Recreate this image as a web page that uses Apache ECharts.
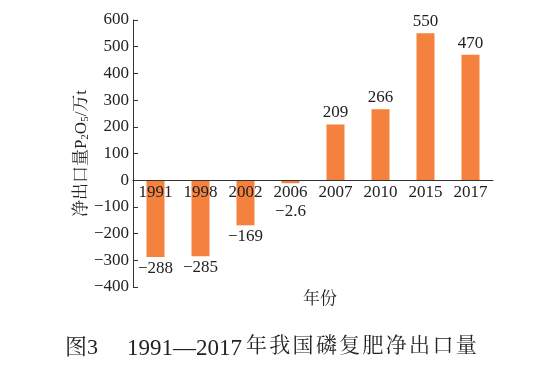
<!DOCTYPE html>
<html><head><meta charset="utf-8">
<script src="https://cdn.jsdelivr.net/npm/echarts@6/dist/echarts.min.js"></script>
<style>html,body{margin:0;padding:0;background:#fff}#c{width:538px;height:380px}</style>
</head><body><div id="c"></div>
<script>
const categories = ['1991','1998','2002','2006','2007','2010','2015','2017'];
const values = [-288, -285, -169, -2.6, 209, 266, 550, 470];
const yTicks = [-400,-300,-200,-100,0,100,200,300,400,500,600];
const captionHead = '图3';
const captionYears = '1991—2017';
const captionTail = '年我国磷复肥净出口量';

const serif = '"Liberation Serif","Noto Serif CJK SC","Noto Sans CJK SC",serif';
const fmt = v => (v < 0 ? '\u2212' + Math.abs(v) : String(v));

const data = values.map(v => {
  const item = { value: v };
  if (v < 0 && Math.abs(v) < 60) item.label = { distance: 20 };
  return item;
});

const grid = { left: 133, right: 45, top: 20, bottom: 93 };
const chart = echarts.init(document.getElementById('c'), null, { renderer: 'canvas' });

const tailChars = captionTail.split('').map((ch, i) => ({
  type: 'text', left: 246 + i * 23.3, top: 336,
  style: { text: ch, fontFamily: serif, fontSize: 21, fill: '#222' }
}));

const option = {
  animation: false,
  grid: grid,
  xAxis: {
    type: 'category',
    z: 5,
    data: categories,
    axisLine: { onZero: true, lineStyle: { color: '#333', width: 1 } },
    axisTick: { inside: true, length: 5, lineStyle: { color: '#333' } },
    axisLabel: { margin: 4, color: '#222', fontFamily: serif, fontSize: 17 }
  },
  yAxis: {
    type: 'value',
    min: yTicks[0], max: yTicks[yTicks.length - 1], interval: 100,
    name: '净出口量P{sub|2}O{sub|5}/万t',
    nameLocation: 'middle',
    nameGap: 42,
    nameMoveOverlap: false,
    nameTextStyle: {
      color: '#222', fontFamily: serif, fontSize: 17,
      rich: { sub: { fontSize: 11, fontFamily: serif, color: '#222', verticalAlign: 'bottom', padding: [8, 0, 0, 0] } }
    },
    axisLine: { show: true, lineStyle: { color: '#333', width: 1 } },
    axisTick: { show: true, inside: true, length: 5, lineStyle: { color: '#333' } },
    splitLine: { show: false },
    axisLabel: { margin: 4, color: '#222', fontFamily: serif, fontSize: 17, formatter: fmt }
  },
  series: [{
    type: 'bar',
    data: data,
    barWidth: 18,
    barMinHeight: 3,
    itemStyle: { color: '#F5813F' },
    label: {
      show: true,
      position: 'outside',
      distance: 3,
      color: '#222', fontFamily: serif, fontSize: 17,
      formatter: p => fmt(p.value)
    }
  }],
  graphic: [
    { type: 'text', left: 303, top: 291, style: { text: '年份', fontFamily: serif, fontSize: 17, fill: '#222' } },
    { type: 'text', left: 65, top: 337, style: { text: captionHead, fontFamily: serif, fontSize: 22, fill: '#222' } },
    { type: 'text', left: 127, top: 337, style: { text: captionYears, fontFamily: serif, fontSize: 23, fill: '#222' } }
  ].concat(tailChars)
};
chart.setOption(option);

// Pull the category labels up to the zero line
const zeroY = chart.convertToPixel({ yAxisIndex: 0 }, 0);
const bottomY = chart.convertToPixel({ yAxisIndex: 0 }, yTicks[0]);
chart.setOption({ xAxis: { axisLabel: { margin: 4 - (bottomY - zeroY) } } });
</script></body></html>
